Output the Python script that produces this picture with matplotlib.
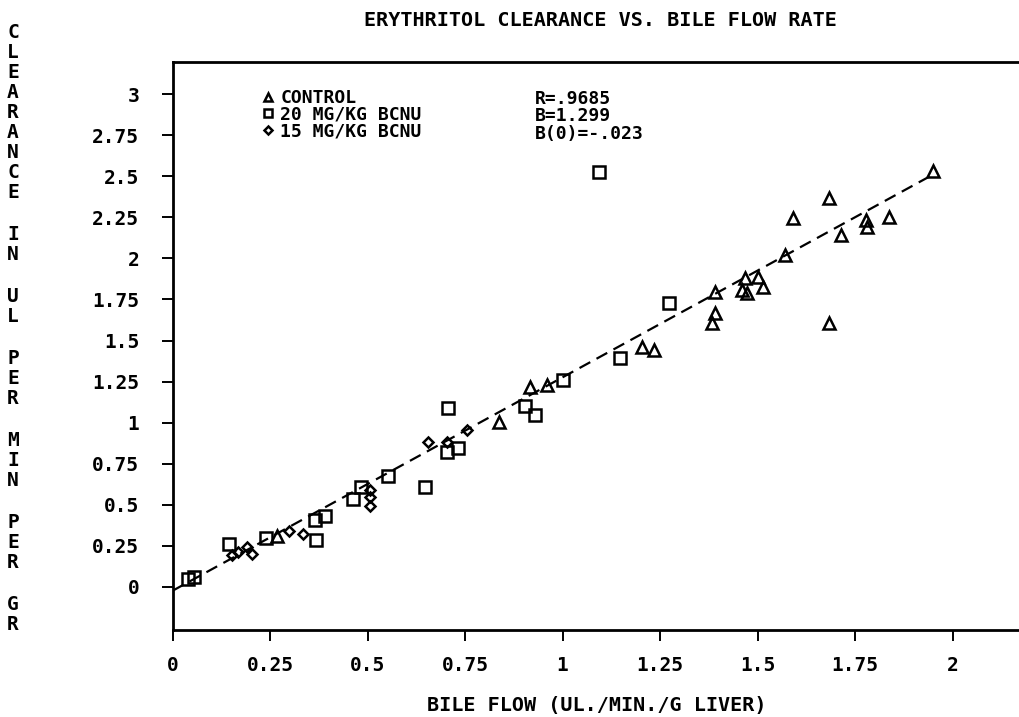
import matplotlib
matplotlib.use("Agg")
import matplotlib.pyplot as plt
from matplotlib.lines import Line2D

# control group (triangles)
ctrl_x = [0.269, 0.836, 0.917, 0.959, 1.203, 1.235, 1.383, 1.391, 1.391,
          1.46, 1.468, 1.472, 1.502, 1.515, 1.571, 1.592, 1.684, 1.684,
          1.713, 1.778, 1.78, 1.838, 1.949]
ctrl_y = [0.31, 1.006, 1.215, 1.23, 1.463, 1.443, 1.605, 1.666, 1.797,
          1.808, 1.879, 1.788, 1.889, 1.828, 2.02, 2.244, 2.366, 1.605,
          2.142, 2.234, 2.193, 2.254, 2.534]

# 20 mg/kg BCNU (squares)
b20_x = [0.04, 0.055, 0.146, 0.241, 0.365, 0.367, 0.391, 0.462, 0.483,
         0.553, 0.647, 0.703, 0.707, 0.733, 0.904, 0.929, 1.0, 1.094,
         1.147, 1.274]
b20_y = [0.05, 0.063, 0.26, 0.30, 0.41, 0.286, 0.43, 0.534, 0.607,
         0.676, 0.61, 0.823, 1.088, 0.844, 1.10, 1.047, 1.26, 2.526,
         1.392, 1.727]

# 15 mg/kg BCNU (diamonds)
b15_x = [0.152, 0.169, 0.192, 0.203, 0.298, 0.335, 0.506, 0.506, 0.506,
         0.656, 0.703, 0.754]
b15_y = [0.195, 0.215, 0.245, 0.20, 0.343, 0.323, 0.59, 0.55, 0.49,
         0.884, 0.884, 0.955]

slope = 1.299
intercept = -0.023
fit_x = [0.0, 1.955]
fit_y = [intercept + slope * v for v in fit_x]

xticks = [0, 0.25, 0.5, 0.75, 1, 1.25, 1.5, 1.75, 2]
xticklabels = ["0", "0.25", "0.5", "0.75", "1", "1.25", "1.5", "1.75", "2"]
yticks = [0, 0.25, 0.5, 0.75, 1, 1.25, 1.5, 1.75, 2, 2.25, 2.5, 2.75, 3]
yticklabels = ["0", "0.25", "0.5", "0.75", "1", "1.25", "1.5", "1.75", "2",
               "2.25", "2.5", "2.75", "3"]

ylabel_words = ["CLEARANCE", "IN", "UL", "PER", "MIN", "PER", "GR"]
legend_labels = ["CONTROL", "20 MG/KG BCNU", "15 MG/KG BCNU"]
stats_lines = ["R=.9685", "B=1.299", "B(0)=-.023"]

plt.rcParams['font.family'] = ['DejaVu Sans Mono']
plt.rcParams['font.weight'] = 'bold'

W, H = 1020, 717
fig = plt.figure(figsize=(W / 100, H / 100), dpi=100)
ax = fig.add_axes([172.5 / W, 1 - 630 / H, 1 - 172.5 / W, (630 - 62) / H])

mk = dict(linestyle='none', markerfacecolor='none', markeredgecolor='black',
          markeredgewidth=1.8)
ax.plot(ctrl_x, ctrl_y, marker='^', markersize=8, **mk)
ax.plot(b20_x, b20_y, marker='s', markersize=8, **mk)
ax.plot(b15_x, b15_y, marker='D', markersize=5.5, **mk)
ax.plot(fit_x, fit_y, color='black', linewidth=1.6, linestyle=(0, (5.5, 3.2)))

ax.set_xlim(0, (W - 172.5) / 390)
ax.set_ylim(-(630 - 587) / 164.3, (587 - 62) / 164.3)
ax.set_xticks(xticks)
ax.set_xticklabels(xticklabels)
ax.set_yticks(yticks)
ax.set_yticklabels(yticklabels)
ax.tick_params(axis='both', direction='out', length=8, width=1.4,
               labelsize=14, colors='black')
ax.tick_params(axis='x', pad=11)
ax.tick_params(axis='y', pad=16)
ax.spines['right'].set_visible(False)
for s in ['left', 'bottom', 'top']:
    ax.spines[s].set_linewidth(2)

handles = [Line2D([], [], marker='^', markersize=6, **mk),
           Line2D([], [], marker='s', markersize=6, **mk),
           Line2D([], [], marker='D', markersize=4.5, **mk)]
ax.legend(handles, legend_labels, loc='upper left',
          bbox_to_anchor=((263 - 172.5) / (W - 172.5), (630 - 89) / (630 - 62)),
          frameon=False, fontsize=13, handlelength=0.6, handletextpad=0.35,
          labelspacing=-0.07, borderpad=0, borderaxespad=0)

fig.text(535 / W, 1 - 90 / H, "\n".join(stats_lines), fontsize=13,
         va='top', ha='left', linespacing=0.95)

fig.text(600 / W, 1 - 20 / H, "ERYTHRITOL CLEARANCE VS. BILE FLOW RATE",
         fontsize=14.5, ha='center', va='center')
fig.text(597 / W, 1 - 705 / H, "BILE FLOW (UL./MIN./G LIVER)",
         fontsize=14.5, ha='center', va='center')

# stacked vertical axis title, one letter per line
y = 33
for i, word in enumerate(ylabel_words):
    if i > 0:
        y += 42
    for j, ch in enumerate(word):
        if j > 0:
            y += 20
        fig.text(13 / W, 1 - y / H, ch, fontsize=14, ha='center', va='center')

fig.savefig("out.png", dpi=100)
